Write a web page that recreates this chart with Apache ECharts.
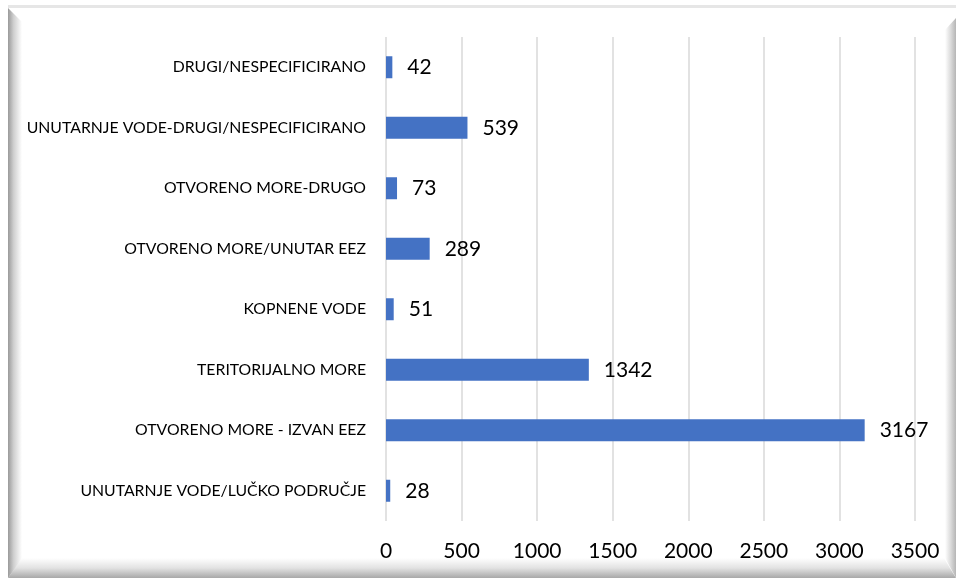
<!DOCTYPE html>
<html>
<head>
<meta charset="utf-8">
<script src="https://cdn.jsdelivr.net/npm/echarts@6/dist/echarts.min.js"></script>
<style>
    html, body { margin: 0; padding: 0; background: #fff; }
    #chart { width: 956px; height: 578px; }
</style>
</head>
<body>
<div id="chart"></div>
<script>
// kategorije odozdo prema gore
const categories = [
    'UNUTARNJE VODE/LUČKO PODRUČJE',
    'OTVORENO MORE - IZVAN EEZ',
    'TERITORIJALNO MORE',
    'KOPNENE VODE',
    'OTVORENO MORE/UNUTAR EEZ',
    'OTVORENO MORE-DRUGO',
    'UNUTARNJE VODE-DRUGI/NESPECIFICIRANO',
    'DRUGI/NESPECIFICIRANO'
];
const values = [28, 3167, 1342, 51, 289, 73, 539, 42];
const axisMin = 0;
const axisMax = 3500;
const axisStep = 500;

const chart = echarts.init(document.getElementById('chart'));

// okvir oko grafikona (ukras)
function frame() {
    return [
        { type: 'rect', shape: { x: 8, y: 5, width: 948, height: 3 }, style: { fill: '#e6e6e6' }, z: 0 },
        {
            type: 'polygon', shape: { points: [[8, 8], [22, 22], [22, 560], [8, 578]] },
            style: {
                fill: new echarts.graphic.LinearGradient(0, 0, 1, 0, [
                    { offset: 0, color: '#9a9a9a' }, { offset: 0.4, color: '#cfcfcf' }, { offset: 1, color: '#ffffff' }
                ])
            }, z: 0
        },
        {
            type: 'polygon', shape: { points: [[22, 558], [944, 558], [956, 578], [8, 578]] },
            style: {
                fill: new echarts.graphic.LinearGradient(0, 0, 0, 1, [
                    { offset: 0, color: '#ffffff' }, { offset: 0.5, color: '#e2e2e2' }, { offset: 1, color: '#a8a8a8' }
                ])
            }, z: 0
        },
        {
            type: 'polygon', shape: { points: [[956, 18], [945, 30], [945, 558], [956, 578]] },
            style: {
                fill: new echarts.graphic.LinearGradient(0, 0, 1, 0, [
                    { offset: 0, color: '#ffffff' }, { offset: 0.5, color: '#dcdcdc' }, { offset: 1, color: '#b5b5b5' }
                ])
            }, z: 0
        }
    ];
}

const option = {
    animation: false,
    backgroundColor: '#ffffff',
    textStyle: { fontFamily: 'Lato', color: '#000' },
    graphic: frame(),
    grid: { left: 386, right: 41, top: 37, bottom: 57 },
    xAxis: {
        type: 'value',
        min: axisMin,
        max: axisMax,
        interval: axisStep,
        axisLine: { show: false },
        axisTick: { show: false },
        splitLine: { show: true, lineStyle: { color: '#d9d9d9', width: 1.5 } },
        axisLabel: {
            fontSize: 21, color: '#000', margin: 20, fontFamily: 'Lato',
            formatter: v => String(v)
        }
    },
    yAxis: {
        type: 'category',
        data: categories,
        axisLine: { show: false },
        axisTick: { show: false },
        axisLabel: { fontSize: 15.8, color: '#000', margin: 20, fontFamily: 'Lato' }
    },
    series: [{
        type: 'bar',
        data: values,
        barWidth: 22,
        itemStyle: { color: '#4472c4' },
        label: {
            show: true,
            position: 'right',
            distance: 15,
            fontSize: 21,
            color: '#000',
            fontFamily: 'Lato'
        }
    }]
};

chart.setOption(option);
</script>
</body>
</html>
